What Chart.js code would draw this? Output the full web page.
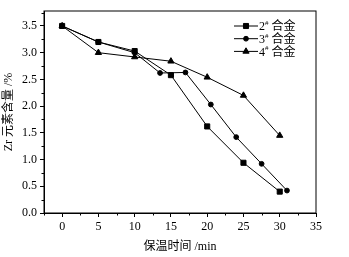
<!DOCTYPE html>
<html>
<head>
<meta charset="utf-8">
<script src="https://cdn.jsdelivr.net/npm/chart.js@4"></script>
<style>
  html, body { margin: 0; padding: 0; background: #fff; }
  #wrap { width: 349px; height: 257px; }
</style>
</head>
<body>
<div id="wrap"><canvas id="zrChart"></canvas></div>
<script>
// 保温时间 (min) 与 Zr 元素含量 (%)
const time2 = [0, 5, 10, 15, 20, 25, 30];
const zr2 = [3.5, 3.2, 3.03, 2.58, 1.62, 0.94, 0.4];

const time3 = [0, 5, 10, 13.5, 17, 20.5, 24, 27.5, 31];
const zr3 = [3.5, 3.2, 3.0, 2.62, 2.63, 2.03, 1.42, 0.92, 0.42];

const time4 = [0, 5, 10, 15, 20, 25, 30];
const zr4 = [3.5, 3.0, 2.92, 2.84, 2.54, 2.2, 1.45];

const seriesNames = ['2', '3', '4'];
const xTicks = [0, 5, 10, 15, 20, 25, 30, 35];
const yTicks = [0, 0.5, 1.0, 1.5, 2.0, 2.5, 3.0, 3.5];
const xMinor = [-2.5, 2.5, 7.5, 12.5, 17.5, 22.5, 27.5, 32.5];
const yMinor = [0.25, 0.75, 1.25, 1.75, 2.25, 2.75, 3.25, 3.75];

const serif = "'Liberation Serif', 'Times New Roman', serif";
const cjk = "'Liberation Serif', 'Noto Sans CJK SC', serif";

const toPoints = (xs, ys) => xs.map((x, i) => ({ x: x, y: ys[i] }));

const pointStyles = ['rect', 'circle', 'triangle'];
const pointSizes = [3.6, 2.4, 3.6];

// Cadre, petites graduations et légende
const framePlugin = {
    id: 'frame',
    afterDraw(chart) {
        const ctx = chart.ctx;
        const area = chart.chartArea;
        const xs = chart.scales.x;
        const ys = chart.scales.y;
        ctx.save();
        ctx.strokeStyle = '#000';
        ctx.lineWidth = 1;
        ctx.strokeRect(area.left, area.top, area.right - area.left, area.bottom - area.top);

        ctx.beginPath();
        xMinor.forEach(v => {
            const px = Math.round(xs.getPixelForValue(v)) + 0.5;
            ctx.moveTo(px, area.bottom);
            ctx.lineTo(px, area.bottom + 2.5);
        });
        yMinor.forEach(v => {
            const py = Math.round(ys.getPixelForValue(v)) + 0.5;
            ctx.moveTo(area.left - 2.5, py);
            ctx.lineTo(area.left, py);
        });
        ctx.stroke();

        // légende
        const lx = area.right - 82;
        let ly = area.top + 15;
        chart.data.datasets.forEach((ds, i) => {
            ctx.strokeStyle = '#000';
            ctx.fillStyle = '#000';
            ctx.lineWidth = 1;
            ctx.beginPath();
            ctx.moveTo(lx, ly);
            ctx.lineTo(lx + 24, ly);
            ctx.stroke();
            Chart.helpers.drawPoint(ctx, {
                pointStyle: pointStyles[i],
                radius: pointSizes[i],
                borderWidth: 1,
                rotation: 0
            }, lx + 12, ly);

            ctx.textBaseline = 'middle';
            ctx.textAlign = 'left';
            let tx = lx + 25;
            ctx.font = '12px ' + serif;
            ctx.fillText(seriesNames[i], tx, ly + 1);
            tx += ctx.measureText(seriesNames[i]).width;
            ctx.font = '7px ' + serif;
            ctx.fillText('#', tx, ly - 3);
            tx += ctx.measureText('#').width + 3;
            ctx.font = '12px ' + cjk;
            ctx.fillText('合金', tx, ly + 1);
            ly += 12.7;
        });
        ctx.restore();
    }
};

const makeDataset = (label, xs, ys, i) => ({
    label: label,
    data: toPoints(xs, ys),
    borderColor: '#000',
    backgroundColor: '#000',
    borderWidth: 1,
    pointStyle: pointStyles[i],
    pointRadius: pointSizes[i],
    pointBorderWidth: 1,
    tension: 0
});

const ctx = document.getElementById('zrChart').getContext('2d');
const myChart = new Chart(ctx, {
    type: 'line',
    data: {
        datasets: [
            makeDataset('2# 合金', time2, zr2, 0),
            makeDataset('3# 合金', time3, zr3, 1),
            makeDataset('4# 合金', time4, zr4, 2)
        ]
    },
    plugins: [framePlugin],
    options: {
        responsive: true,
        maintainAspectRatio: false,
        animation: false,
        layout: { padding: { left: 0, right: 33, top: 11, bottom: 0 } },
        plugins: {
            legend: { display: false },
            tooltip: { enabled: false }
        },
        scales: {
            x: {
                type: 'linear',
                min: -2.5,
                max: 35,
                afterBuildTicks: scale => { scale.ticks = xTicks.map(v => ({ value: v })); },
                afterFit: scale => { scale.height = 44; },
                grid: { drawOnChartArea: false, tickLength: 4, color: '#000' },
                border: { color: '#000', width: 1 },
                ticks: {
                    color: '#000',
                    padding: 3,
                    maxRotation: 0,
                    font: { family: serif, size: 12 },
                    callback: v => String(v)
                },
                title: {
                    display: true,
                    text: '保温时间 /min',
                    color: '#000',
                    font: { family: cjk, size: 12 },
                    padding: { top: 0, bottom: 3 }
                }
            },
            y: {
                min: 0,
                max: 3.78,
                afterBuildTicks: scale => { scale.ticks = yTicks.map(v => ({ value: v })); },
                afterFit: scale => { scale.width = 44; },
                grid: { drawOnChartArea: false, tickLength: 4, color: '#000' },
                border: { color: '#000', width: 1 },
                ticks: {
                    color: '#000',
                    padding: 3,
                    font: { family: serif, size: 12 },
                    callback: v => v.toFixed(1)
                },
                title: {
                    display: true,
                    text: 'Zr 元素含量 /%',
                    color: '#000',
                    font: { family: cjk, size: 12 },
                    padding: { top: 2, bottom: 0 }
                }
            }
        }
    }
});
</script>
</body>
</html>
